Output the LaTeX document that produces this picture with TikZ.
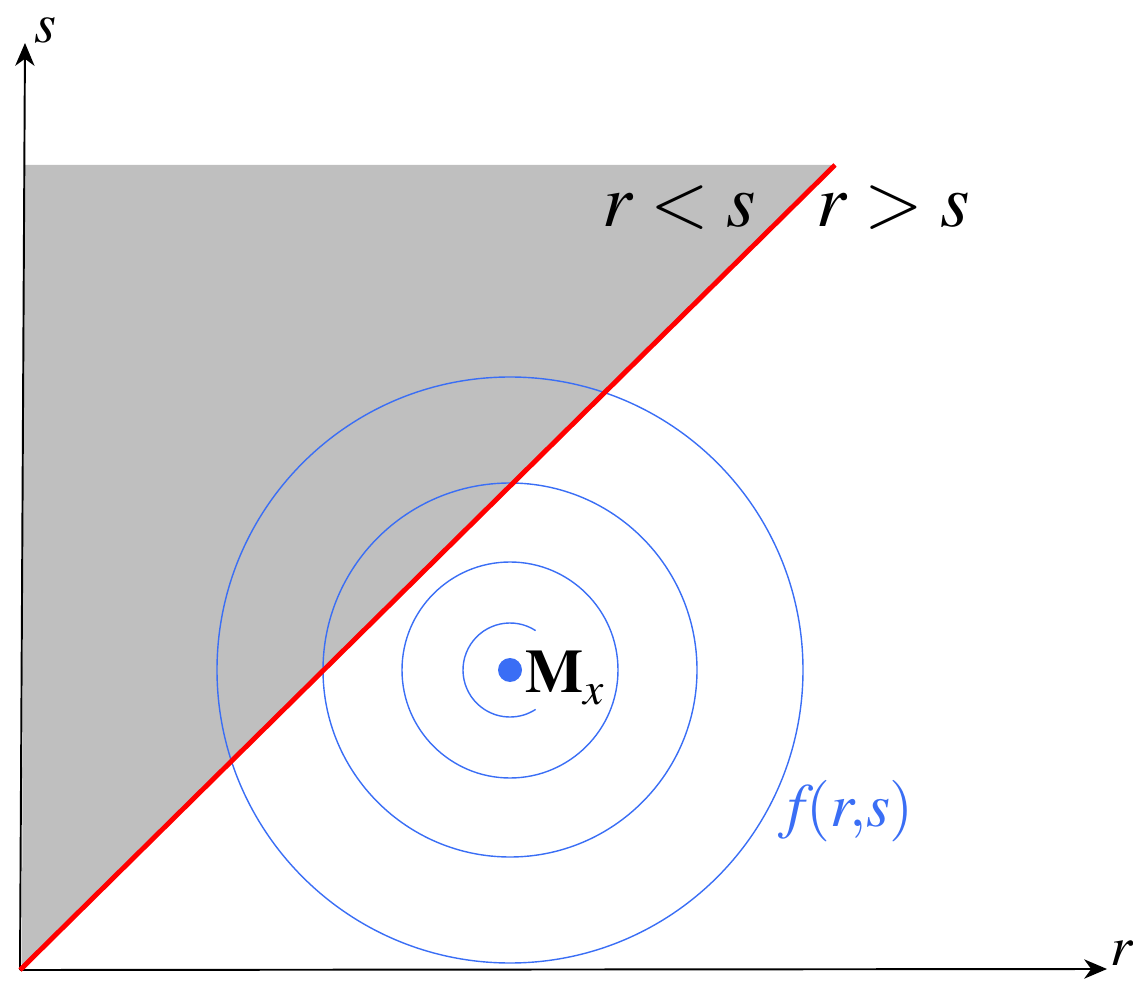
\documentclass[tikz,border=0pt]{standalone}
\usepackage{mathptmx}
\usepackage{tikz}
\usetikzlibrary{arrows.meta}
\definecolor{ringblue}{RGB}{58,110,245}
\definecolor{wedgegray}{RGB}{191,191,191}

\begin{document}
\begin{tikzpicture}[x=0.02cm, y=0.02cm, >={Stealth[length=13pt,width=11pt,inset=4pt]}]
\tikzstyle{axis}=[->, line width=1.1pt]
\tikzstyle{ring}=[ringblue, line width=0.8pt]
\tikzstyle{big}=[font=\fontsize{35}{40}\selectfont, inner sep=0pt]
\tikzstyle{huge}=[font=\fontsize{43}{48}\selectfont, inner sep=0pt]
\useasboundingbox (0,0) rectangle (1133,985);
\coordinate (O) at (20,15);
\coordinate (rtip) at (1107,16);
\coordinate (stip) at (25,942);
\coordinate (top) at (835,820);
\coordinate (M) at (510,315);
% region r < s
\fill[wedgegray] (22,17) -- (24,820) -- (top) -- cycle;
\draw[axis] (O) -- (rtip);
\draw[axis] (O) -- (stip);
\node[big, font=\fontsize{32}{36}\selectfont, anchor=base] (slab) at (45,942) {$s$};
\node[big, font=\fontsize{32}{36}\selectfont, anchor=base] (rlab) at (1122,20) {$r$};
% level sets of f
\draw[ring] (M) circle[radius=293];
\draw[ring] (M) circle[radius=187];
\draw[ring] (M) circle[radius=108];
\draw[ring] (M) ++(57:47) arc[start angle=57, end angle=303, radius=47];
\fill[ringblue] (M) circle[radius=12];
\draw[red, line width=2.8pt] (O) -- (top);
\node[big, anchor=base west] (mx) at (525,293) {$\mathbf{M}_{\raisebox{-2pt}{$\scriptstyle x$}}$};
\node[huge, anchor=base] (lt) at (679,758) {$r<s$};
\node[huge, anchor=base] (gt) at (893,758) {$r>s$};
\node[big, ringblue, anchor=base] (f) at (846,159) {$f\!(r,\!s)$};
\end{tikzpicture}
\end{document}
